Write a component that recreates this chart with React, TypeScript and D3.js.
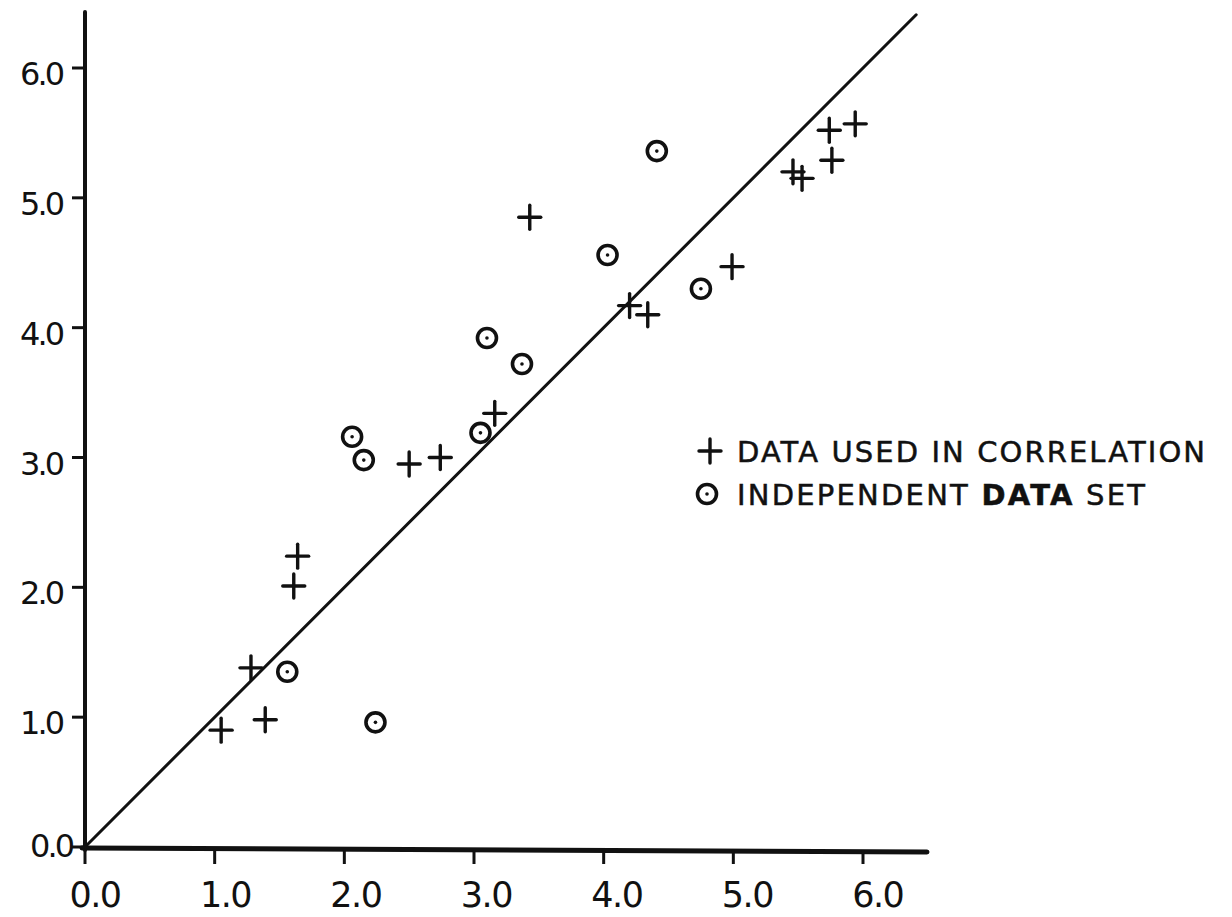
import React from "react";
import * as d3 from "d3";

const tickValues = [0, 1, 2, 3, 4, 5, 6];
const tickLabels = ["0.0", "1.0", "2.0", "3.0", "4.0", "5.0", "6.0"];

const correlationX = [1.05, 1.28, 1.39, 1.61, 1.64, 2.5, 2.74, 3.16, 3.43, 4.2, 4.34, 4.99, 5.46, 5.53, 5.74, 5.76, 5.94];
const correlationY = [0.9, 1.38, 0.98, 2.01, 2.24, 2.95, 3.0, 3.34, 4.85, 4.17, 4.1, 4.47, 5.2, 5.15, 5.52, 5.29, 5.57];

const independentX = [1.56, 2.24, 2.06, 2.15, 3.05, 3.1, 3.37, 4.03, 4.41, 4.75];
const independentY = [1.35, 0.96, 3.16, 2.98, 3.19, 3.92, 3.72, 4.56, 5.36, 4.3];

const lineEnd = 6.41;

const legendLabels = ["DATA USED IN CORRELATION", "INDEPENDENT", "DATA", "SET"];

const W = 1232;
const H = 917;
const FONT = "'DejaVu Sans', sans-serif";
const INK = "#111";

export default function App() {
  const x = d3.scaleLinear().domain([0, 6]).range([85, 863]);
  const y = d3.scaleLinear().domain([0, 6]).range([847, 68]);

  const diag = d3.line<number>().x((d) => x(d)).y((d) => y(d))([0, lineEnd]) || "";

  const plus = (cx: number, cy: number, key: string) => (
    <g key={key} stroke={INK} strokeWidth={3.4} strokeLinecap="round">
      <line x1={cx - 11} x2={cx + 11} y1={cy} y2={cy} />
      <line x1={cx} x2={cx} y1={cy - 12} y2={cy + 12} />
    </g>
  );
  const ring = (cx: number, cy: number, key: string) => (
    <g key={key}>
      <circle cx={cx} cy={cy} r={9.5} fill="none" stroke={INK} strokeWidth={3.6} />
      <circle cx={cx} cy={cy} r={1.8} fill={INK} />
    </g>
  );

  return (
    <svg
      width={W}
      height={H}
      viewBox={`0 0 ${W} ${H}`}
      style={{ position: "absolute", left: 0, top: 0, background: "#fff" }}
    >
      <rect x={0} y={0} width={W} height={H} fill="#fff" />
      {/* diagonal */}
      <path d={diag} fill="none" stroke={INK} strokeWidth={3} strokeLinecap="round" />
      {/* axes */}
      <line x1={x(0)} x2={x(0)} y1={12} y2={y(0) + 3} stroke={INK} strokeWidth={4} strokeLinecap="round" />
      <line x1={x(0) - 3} x2={927} y1={y(0) + 1} y2={y(0) + 5} stroke={INK} strokeWidth={5} strokeLinecap="round" />
      {/* x ticks */}
      {tickValues.map((v, i) => (
        <g key={"xt" + i}>
          <line x1={x(v)} x2={x(v)} y1={y(0) + 3} y2={y(0) + 17} stroke={INK} strokeWidth={3} />
          <text
            x={x(v) + 10 + i * 0.8}
            y={907}
            fontFamily={FONT}
            fontSize={35}
            textAnchor="middle"
            fill={INK}
            letterSpacing={-1.5}
          >
            {tickLabels[i]}
          </text>
        </g>
      ))}
      {/* y ticks */}
      {tickValues.map((v, i) => (
        <g key={"yt" + i}>
          <line x1={x(0) - 13} x2={x(0)} y1={y(v)} y2={y(v)} stroke={INK} strokeWidth={3} />
          <text
            x={i === 0 ? 72 : 62}
            y={y(v) + (i === 0 ? 10 : 17)}
            fontFamily={FONT}
            fontSize={32}
            textAnchor="end"
            fill={INK}
            letterSpacing={-3}
          >
            {tickLabels[i]}
          </text>
        </g>
      ))}
      {/* data */}
      {correlationX.map((v, i) => plus(x(v), y(correlationY[i]), "p" + i))}
      {independentX.map((v, i) => ring(x(v), y(independentY[i]), "c" + i))}
      {/* legend */}
      {plus(710, 451, "lp")}
      {ring(707, 494, "lc")}
      <text
        x={737}
        y={462}
        fontFamily={FONT}
        fontSize={29}
        fill={INK}
        stroke={INK}
        strokeWidth={0.5}
        textLength={468}
        lengthAdjust="spacing"
      >
        {legendLabels[0]}
      </text>
      <text
        x={737}
        y={505}
        fontFamily={FONT}
        fontSize={29}
        fill={INK}
        stroke={INK}
        strokeWidth={0.5}
        textLength={408}
        lengthAdjust="spacing"
      >
        {legendLabels[1] + " "}
        <tspan fontWeight="bold">{legendLabels[2]}</tspan>
        {" " + legendLabels[3]}
      </text>
    </svg>
  );
}
